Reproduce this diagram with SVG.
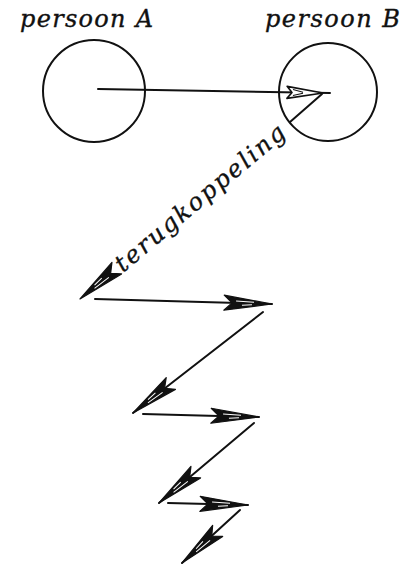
<svg xmlns="http://www.w3.org/2000/svg" width="400" height="565" viewBox="0 0 400 565">
<style>
.lbl{font-family:"DejaVu Serif","Liberation Serif",serif;font-style:italic;font-size:24px;fill:#111;stroke:#111;stroke-width:0.35}
.ring{fill:none;stroke:#111;stroke-width:2}
.ln{stroke:#111;stroke-width:2;fill:none;stroke-linecap:round}
.head{fill:#111;stroke:#111;stroke-width:1.2;stroke-linejoin:round}
.hol{fill:#fff;stroke:#111;stroke-width:1.6;stroke-linejoin:round}
.hi{stroke:#fff;stroke-width:1;fill:none}
</style>
<defs>
<g id="ah">
<path class="head" d="M0,0 L-48,-7.5 L-40,0 L-48,7.5 Z"/>
<path class="hi" d="M-36,-2 L-18,-1.2 M-30,2 L-20,1.2"/>
</g>
<g id="ahHollow">
<path class="hol" d="M0,0 L-36,-6 L-31,0 L-36,6 Z"/>
<path d="M-30,-3 L-20,-0.5 M-30,3 L-20,0.5" stroke="#111" stroke-width="1" fill="none"/>
</g>
</defs>
<g id="personA">
<circle class="ring" cx="94" cy="91" r="51"/>
<text class="lbl" x="20" y="27" textLength="133" lengthAdjust="spacing">persoon A</text>
</g>
<g id="personB">
<circle class="ring" cx="328" cy="92" r="49"/>
<text class="lbl" x="265" y="27" textLength="135" lengthAdjust="spacing">persoon B</text>
</g>
<g id="connectors">
<line class="ln" x1="98" y1="89" x2="330" y2="93"/>
<use href="#ahHollow" transform="translate(323,93) rotate(1)"/>
<line class="ln" x1="322" y1="94" x2="290" y2="122"/>
<text class="lbl" transform="translate(123,273) rotate(-40)" textLength="214" lengthAdjust="spacing">terugkoppeling</text>
<use href="#ah" transform="translate(80,299) rotate(140)"/>
<line class="ln" x1="95" y1="299" x2="272" y2="304"/>
<use href="#ah" transform="translate(272,304) rotate(1.6)"/>
<line class="ln" x1="263" y1="312" x2="133" y2="413"/>
<use href="#ah" transform="translate(133,413) rotate(142)"/>
<line class="ln" x1="143" y1="414" x2="259" y2="417"/>
<use href="#ah" transform="translate(259,417) rotate(1.5)"/>
<line class="ln" x1="254" y1="423" x2="159" y2="503"/>
<use href="#ah" transform="translate(159,503) rotate(140)"/>
<line class="ln" x1="168" y1="503" x2="248" y2="505"/>
<use href="#ah" transform="translate(248,505) rotate(1.4)"/>
<line class="ln" x1="240" y1="510" x2="182" y2="563"/>
<use href="#ah" transform="translate(182,563) rotate(138)"/>
</g>
</svg>
